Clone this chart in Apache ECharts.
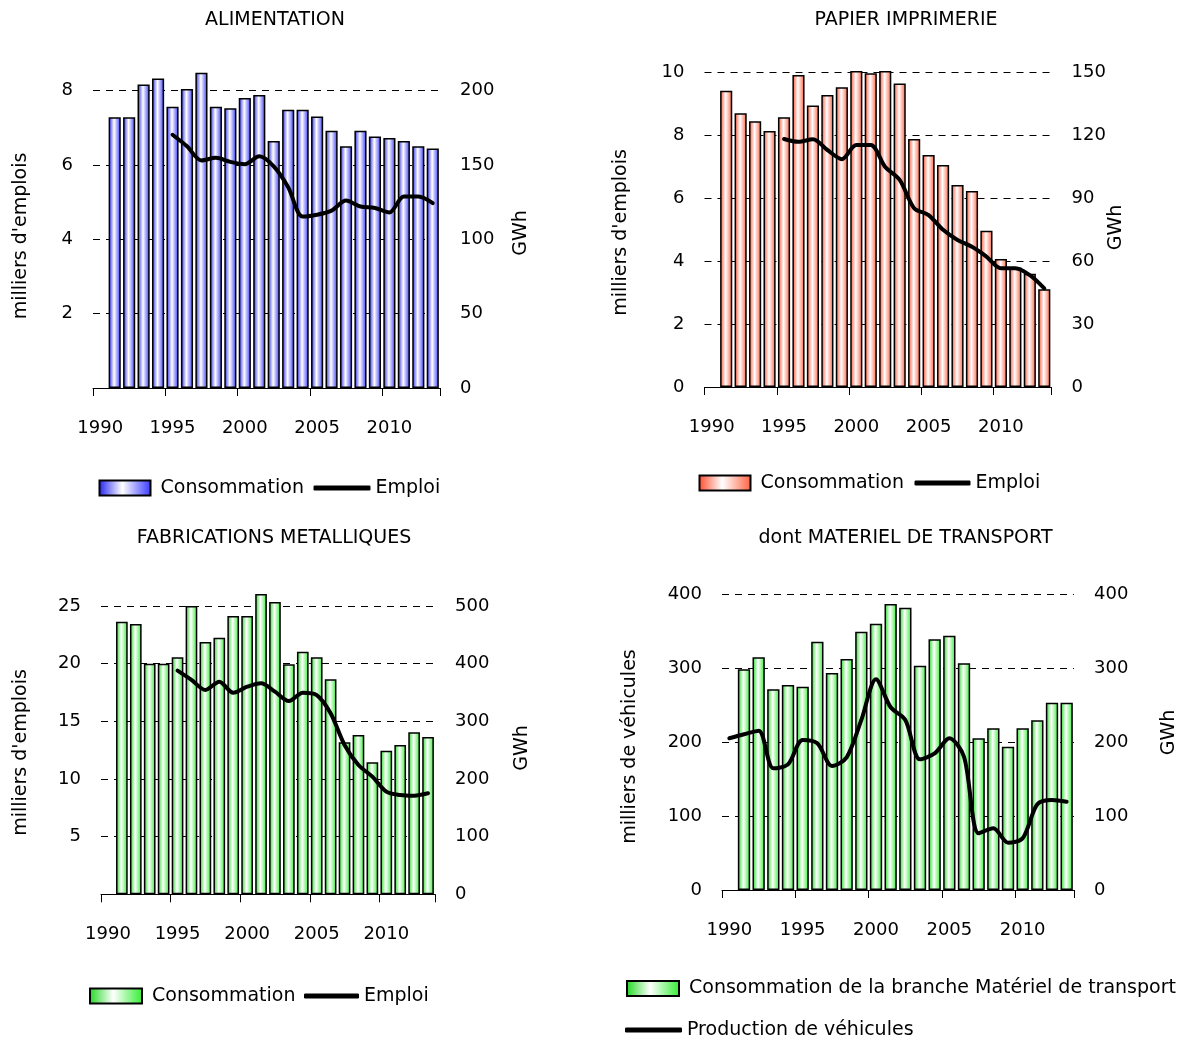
<!DOCTYPE html>
<html>
<head>
<meta charset="utf-8">
<script src="https://cdn.jsdelivr.net/npm/echarts@6/dist/echarts.min.js"></script>
<style>
  html, body { margin: 0; padding: 0; background: #fff; }
  #chart { width: 1197px; height: 1049px; }
</style>
</head>
<body>
<div id="chart"></div>
<script>
// Years on the category axis
const years = ['1990','1991','1992','1993','1994','1995','1996','1997','1998','1999','2000','2001',
               '2002','2003','2004','2005','2006','2007','2008','2009','2010','2011','2012','2013'];

// ALIMENTATION: consumption (GWh) and employment (thousands)
const alimConso  = [null, 182, 182, 204, 208, 189, 201, 212, 189, 188, 195, 197,
                    166, 187, 187, 182.5, 173, 162.5, 173, 169, 168, 166, 162.5, 161];
const alimEmploi = [null, null, null, null, null, 6.81, 6.5, 6.12, 6.19, 6.08, 6.02, 6.23,
                    5.96, 5.4, 4.61, 4.66, 4.77, 5.04, 4.88, 4.84, 4.72, 5.15, 5.15, 4.97];

// PAPIER IMPRIMERIE
const papierConso  = [null, 141.4, 130.6, 126.8, 122.2, 128.7, 148.9, 134.4, 139.4, 143, 150.8, 149.7,
                      150.8, 144.9, 118.4, 110.7, 106, 96.4, 93.5, 74.6, 61.1, 57, 54, 46.6];
const papierEmploi = [null, null, null, null, null, 7.89, 7.8, 7.88, 7.54, 7.25, 7.7, 7.7,
                      7.0, 6.59, 5.69, 5.47, 5.0, 4.68, 4.46, 4.15, 3.78, 3.78, 3.56, 3.14];

// FABRICATIONS METALLIQUES
const metalConso  = [null, 472.8, 468.8, 400, 400, 411, 500, 437.6, 445, 482.7, 482.7, 520.8,
                     507, 399, 420.8, 411, 372.9, 263.6, 276.3, 229, 249, 259, 281, 272.8];
const metalEmploi = [null, null, null, null, null, 19.39, 18.59, 17.72, 18.44, 17.48, 18.0, 18.3,
                     17.57, 16.76, 17.48, 17.28, 15.7, 12.95, 11.21, 10.2, 8.9, 8.61, 8.55, 8.76];

// dont MATERIEL DE TRANSPORT: consumption (GWh) and vehicle output (thousands)
const transConso = [null, 298.2, 314.5, 271.2, 277, 274.8, 335.5, 293.2, 312.2, 349, 359.9, 386.5,
                    381.5, 303.1, 338.8, 343.6, 306.3, 205, 218.5, 193.6, 218.5, 229.3, 253.1, 253.1];
const transProd  = [205, 210.4, 215.3, 164.4, 169.8, 202.7, 198.2, 167.6, 179.3, 229.7, 284.7, 246.9,
                    229.7, 176.6, 184.7, 205, 180.1, 76.6, 83.4, 63.9, 69.9, 115.8, 121.6, 119.3];

const FONT = 'DejaVu Sans';

function barGradient(edge1, edge2) {
  return new echarts.graphic.LinearGradient(0, 0, 1, 0, [
    { offset: 0, color: edge1 },
    { offset: 0.45, color: '#ffffff' },
    { offset: 1, color: edge2 }
  ]);
}

const panels = [
  {
    title: 'ALIMENTATION', titleX: 275, titleY: 20,
    grid: { left: 93, top: 90.5, width: 347, height: 297.5 },
    leftName: "milliers d'emplois", leftNameX: 21, leftNameY: 236,
    rightNameX: 521, rightNameY: 233,
    leftMax: 8, leftInt: 2, leftShowZero: false,
    rightMax: 200, rightInt: 50,
    barName: 'Consommation', barData: alimConso, lineName: 'Emploi', lineData: alimEmploi,
    colors: ['#2020ee', '#3636ff'],
    legBar: { left: 98.5, top: 478.5, w: 51 }, legLine: { left: 313.5, top: 478.5, w: 57 }
  },
  {
    title: 'PAPIER IMPRIMERIE', titleX: 906, titleY: 20,
    grid: { left: 704.5, top: 72.7, width: 347, height: 314.3 },
    leftName: "milliers d'emplois", leftNameX: 621, leftNameY: 232.5,
    rightNameX: 1116, rightNameY: 227.5,
    leftMax: 10, leftInt: 2, leftShowZero: true,
    rightMax: 150, rightInt: 30,
    barName: 'Consommation', barData: papierConso, lineName: 'Emploi', lineData: papierEmploi,
    colors: ['#ff4a2a', '#ff6040'],
    legBar: { left: 698.5, top: 473.5, w: 51 }, legLine: { left: 914.5, top: 473.5, w: 56 }
  },
  {
    title: 'FABRICATIONS METALLIQUES', titleX: 274, titleY: 538,
    grid: { left: 101, top: 606, width: 334, height: 288.3 },
    leftName: "milliers d'emplois", leftNameX: 21, leftNameY: 752.5,
    rightNameX: 522, rightNameY: 748,
    leftMax: 25, leftInt: 5, leftShowZero: false,
    rightMax: 500, rightInt: 100,
    barName: 'Consommation', barData: metalConso, lineName: 'Emploi', lineData: metalEmploi,
    colors: ['#1ed81e', '#30ee30'],
    legBar: { left: 89, top: 986.5, w: 52 }, legLine: { left: 304, top: 986.5, w: 55 }
  },
  {
    title: 'dont MATERIEL DE TRANSPORT', titleX: 905.5, titleY: 538,
    grid: { left: 722, top: 594, width: 352, height: 296 },
    leftName: 'milliers de véhicules', leftNameX: 630.5, leftNameY: 746.5,
    rightNameX: 1169.5, rightNameY: 732.5,
    leftMax: 400, leftInt: 100, leftShowZero: true,
    rightMax: 400, rightInt: 100,
    barName: 'Consommation de la branche Matériel de transport', barData: transConso,
    lineName: 'Production de véhicules', lineData: transProd,
    colors: ['#1ed81e', '#30ee30'],
    legBar: { left: 626, top: 979, w: 52 }, legLine: { left: 625, top: 1020.5, w: 57 }
  }
];

const option = {
  animation: false,
  backgroundColor: '#ffffff',
  textStyle: { fontFamily: FONT, color: '#000' },
  grid: [], xAxis: [], yAxis: [], series: [], legend: [], graphic: []
};

const textStyleBase = { fontFamily: FONT, color: '#000' };
// series names carry a panel suffix so each legend finds its own series
const shownName = function (name) { return name.split('|')[0]; };

panels.forEach(function (p, i) {
  option.grid.push(Object.assign({ containLabel: false }, p.grid));

  option.xAxis.push({
    type: 'category', gridIndex: i, data: years, boundaryGap: true,
    axisLine: { show: true, lineStyle: { color: '#000', width: 1 } },
    axisTick: { show: true, interval: 4, length: 8, lineStyle: { color: '#000', width: 1 } },
    axisLabel: Object.assign({ interval: 4, margin: 31, fontSize: 18 }, textStyleBase),
    splitLine: { show: false }
  });

  // left axis: employment / vehicles
  option.yAxis.push({
    type: 'value', gridIndex: i, position: 'left', min: 0, max: p.leftMax, interval: p.leftInt,
    axisLine: { show: false }, axisTick: { show: false },
    axisLabel: Object.assign({ fontSize: 18, margin: 20, showMinLabel: p.leftShowZero }, textStyleBase),
    splitLine: { show: true, lineStyle: { color: '#000', width: 1, type: [7, 6] } }
  });
  // right axis: GWh
  option.yAxis.push({
    type: 'value', gridIndex: i, position: 'right', min: 0, max: p.rightMax, interval: p.rightInt,
    axisLine: { show: false }, axisTick: { show: false },
    axisLabel: Object.assign({ fontSize: 18, margin: 20 }, textStyleBase),
    splitLine: { show: false }
  });

  const barName = p.barName + '|' + i, lineName = p.lineName + '|' + i;
  option.series.push({
    name: barName, type: 'bar', xAxisIndex: i, yAxisIndex: 2 * i + 1,
    data: p.barData, barCategoryGap: '16%', clip: false, z: 2,
    itemStyle: { color: barGradient(p.colors[0], p.colors[1]), borderColor: '#000', borderWidth: 1.5 },
    emphasis: { disabled: true }
  });
  option.series.push({
    name: lineName, type: 'line', xAxisIndex: i, yAxisIndex: 2 * i,
    data: p.lineData, smooth: 0.3, symbol: 'none', showSymbol: false, clip: false, z: 3,
    lineStyle: { color: '#000', width: 4, cap: 'round', join: 'round' },
    itemStyle: { color: '#000' },
    emphasis: { disabled: true }
  });

  option.legend.push({
    data: [{ name: barName, icon: 'rect' }], formatter: shownName,
    left: p.legBar.left, top: p.legBar.top, padding: 0,
    itemWidth: p.legBar.w, itemHeight: 15, selectedMode: false,
    itemStyle: { borderColor: '#000', borderWidth: 2 },
    textStyle: { fontFamily: FONT, fontSize: 19, color: '#000', padding: [0, 0, 0, 5] }
  });
  option.legend.push({
    data: [{ name: lineName, icon: 'roundRect' }], formatter: shownName,
    left: p.legLine.left, top: p.legLine.top, padding: 0,
    itemWidth: p.legLine.w, itemHeight: 5, selectedMode: false,
    itemStyle: { color: '#000', borderWidth: 0 },
    textStyle: { fontFamily: FONT, fontSize: 19, color: '#000' }
  });

  option.graphic.push({
    type: 'text', x: p.titleX, y: p.titleY, silent: true,
    style: { text: p.title, fontFamily: FONT, fontSize: 19, fill: '#000',
             align: 'center', verticalAlign: 'middle', textAlign: 'center', textVerticalAlign: 'middle' }
  });
  option.graphic.push({
    type: 'text', x: p.leftNameX, y: p.leftNameY, rotation: Math.PI / 2, silent: true,
    style: { text: p.leftName, fontFamily: FONT, fontSize: 19, fill: '#000',
             align: 'center', verticalAlign: 'middle', textAlign: 'center', textVerticalAlign: 'middle' }
  });
  option.graphic.push({
    type: 'text', x: p.rightNameX, y: p.rightNameY, rotation: Math.PI / 2, silent: true,
    style: { text: 'GWh', fontFamily: FONT, fontSize: 19, fill: '#000',
             align: 'center', verticalAlign: 'middle', textAlign: 'center', textVerticalAlign: 'middle' }
  });
});

const chart = echarts.init(document.getElementById('chart'), null, { renderer: 'canvas' });
chart.setOption(option);
</script>
</body>
</html>
